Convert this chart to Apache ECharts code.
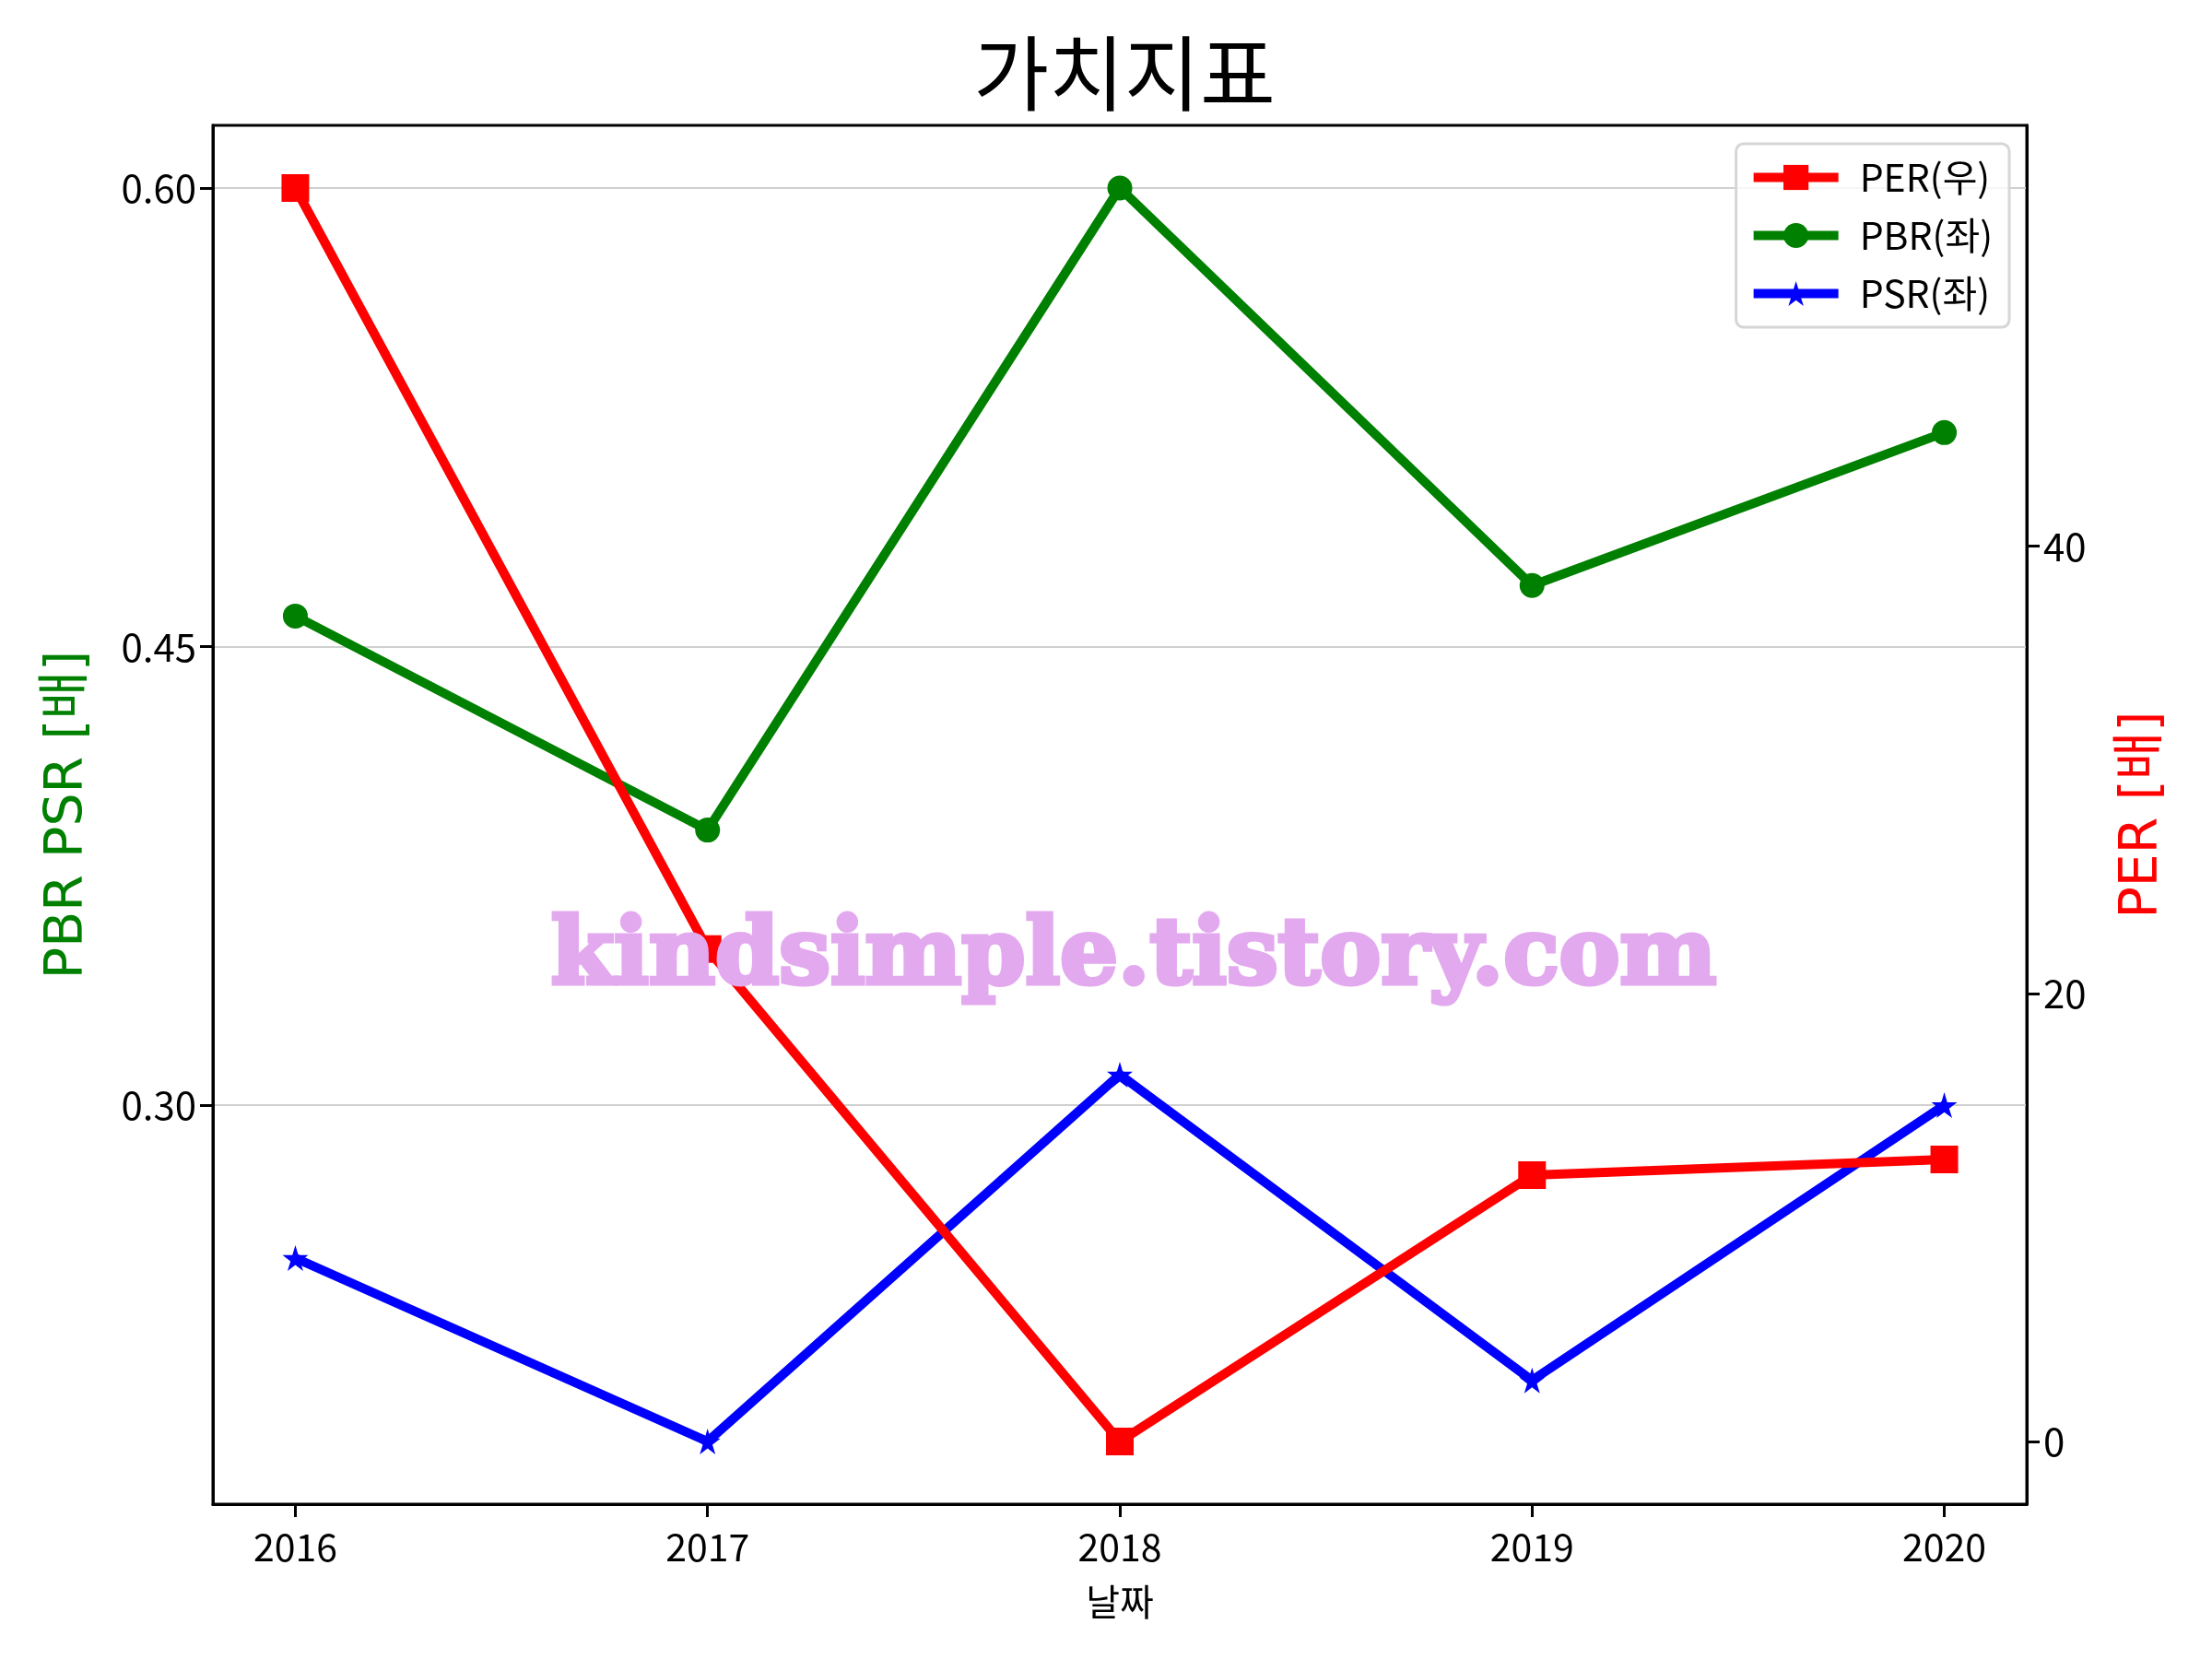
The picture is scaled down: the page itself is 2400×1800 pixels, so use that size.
<!DOCTYPE html>
<html>
<head>
<meta charset="utf-8">
<script src="https://cdn.jsdelivr.net/npm/echarts@6/dist/echarts.min.js"></script>
<style>html,body{margin:0;padding:0;background:#fff}#c{width:2400px;height:1800px}</style>
</head>
<body>
<div id="c"></div>
<script>
const years = ['2016', '2017', '2018', '2019', '2020'];
const perValues = [56, 22, 0, 11.9, 12.6];
const pbrValues = [0.46, 0.39, 0.60, 0.47, 0.52];
const psrValues = [0.25, 0.19, 0.31, 0.21, 0.30];
const leftTicks = [0.30, 0.45, 0.60];
const rightTicks = [0, 20, 40];
const xTicks = [0, 1, 2, 3, 4];

const toPairs = vals => vals.map((v, i) => [i, v]);
const STAR = 'path://M50,0 L61,35 L98,35 L68,57 L79,91 L50,70 L21,91 L32,57 L2,35 L39,35 Z';
const FONT = "'Noto Sans CJK KR', 'Noto Sans', sans-serif";
const NAMEFONT = "'DejaVu Sans', 'Noto Sans CJK KR', sans-serif";

const chart = echarts.init(document.getElementById('c'), null, {renderer: 'canvas'});
const axisLineStyle = {color: '#000', width: 3};
const GL = 231, GR = 201, GT = 136, GB = 168;
chart.setOption({
  animation: false,
  backgroundColor: '#fff',
  title: {
    text: '가치지표', left: GL + (2400 - GL - GR) / 2, top: 30, textAlign: 'center',
    textStyle: {fontFamily: FONT, fontSize: 89, fontWeight: 'normal', color: '#000'}
  },
  grid: {left: GL, right: GR, top: GT, bottom: GB, containLabel: false,
    show: true, borderColor: '#000', borderWidth: 3, backgroundColor: 'transparent'},
  legend: {
    data: ['PER(우)', 'PBR(좌)', 'PSR(좌)'],
    orient: 'vertical', right: 220, top: 156,
    itemWidth: 92, itemHeight: 34, itemGap: 22,
    padding: [16, 18, 16, 14],
    borderColor: '#d6d6d6', borderWidth: 3, borderRadius: 8,
    backgroundColor: 'rgba(255,255,255,0.8)',
    lineStyle: {width: 10},
    textStyle: {fontFamily: FONT, fontSize: 41, color: '#000', padding: [0, 0, 0, 18]}
  },
  xAxis: {
    type: 'value', min: -0.2, max: 4.2,
    name: '날짜', nameLocation: 'middle', nameGap: 86,
    nameTextStyle: {fontFamily: FONT, fontSize: 40, color: '#000'},
    axisLine: {onZero: false, lineStyle: axisLineStyle},
    axisTick: {show: true, length: 14, lineStyle: {color: '#000', width: 3}, customValues: xTicks},
    axisLabel: {fontFamily: FONT, fontSize: 41, color: '#000', margin: 26, customValues: xTicks,
      formatter: v => years[Math.round(v)]},
    splitLine: {show: false}
  },
  yAxis: [{
    type: 'value', position: 'left', min: 0.1695, max: 0.6205,
    name: 'PBR PSR [배]', nameLocation: 'middle', nameRotate: 90, nameGap: 128,
    nameTextStyle: {fontFamily: NAMEFONT, fontSize: 57, color: '#008000'},
    axisLine: {show: true, onZero: false, lineStyle: axisLineStyle},
    axisTick: {show: true, length: 14, lineStyle: {color: '#000', width: 3}, customValues: leftTicks},
    axisLabel: {fontFamily: FONT, fontSize: 42, color: '#000', margin: 18, customValues: leftTicks,
      formatter: v => v.toFixed(2)},
    splitLine: {show: true, lineStyle: {color: '#d0d0d0', width: 2}}
  }, {
    type: 'value', position: 'right', min: -2.8, max: 58.8,
    name: 'PER [배]', nameLocation: 'middle', nameRotate: 90, nameGap: 98,
    nameTextStyle: {fontFamily: NAMEFONT, fontSize: 57, color: '#ff0000'},
    axisLine: {show: true, onZero: false, lineStyle: axisLineStyle},
    axisTick: {show: true, length: 14, lineStyle: {color: '#000', width: 3}, customValues: rightTicks},
    axisLabel: {fontFamily: FONT, fontSize: 42, color: '#000', margin: 18, customValues: rightTicks},
    splitLine: {show: false}
  }],
  series: [{
    name: 'PBR(좌)', type: 'line', yAxisIndex: 0, data: toPairs(pbrValues), z: 3,
    symbol: 'circle', symbolSize: 27, lineStyle: {color: '#008000', width: 10},
    itemStyle: {color: '#008000'}
  }, {
    name: 'PSR(좌)', type: 'line', yAxisIndex: 0, data: toPairs(psrValues), z: 4,
    symbol: STAR, symbolSize: 28, lineStyle: {color: '#0000ff', width: 10},
    itemStyle: {color: '#0000ff'}
  }, {
    name: 'PER(우)', type: 'line', yAxisIndex: 1, data: toPairs(perValues), z: 5,
    symbol: 'rect', symbolSize: 30, lineStyle: {color: '#ff0000', width: 10},
    itemStyle: {color: '#ff0000'}
  }],
  graphic: [{
    type: 'text', z: 100, x: 1230, y: 1041,
    style: {
      text: 'kindsimple.tistory.com', fill: '#E3A9EF',
      stroke: '#E3A9EF', lineWidth: 5,
      align: 'center', verticalAlign: 'middle',
      font: "bold 99px 'DejaVu Serif', serif"
    }
  }]
});
</script>
</body>
</html>
